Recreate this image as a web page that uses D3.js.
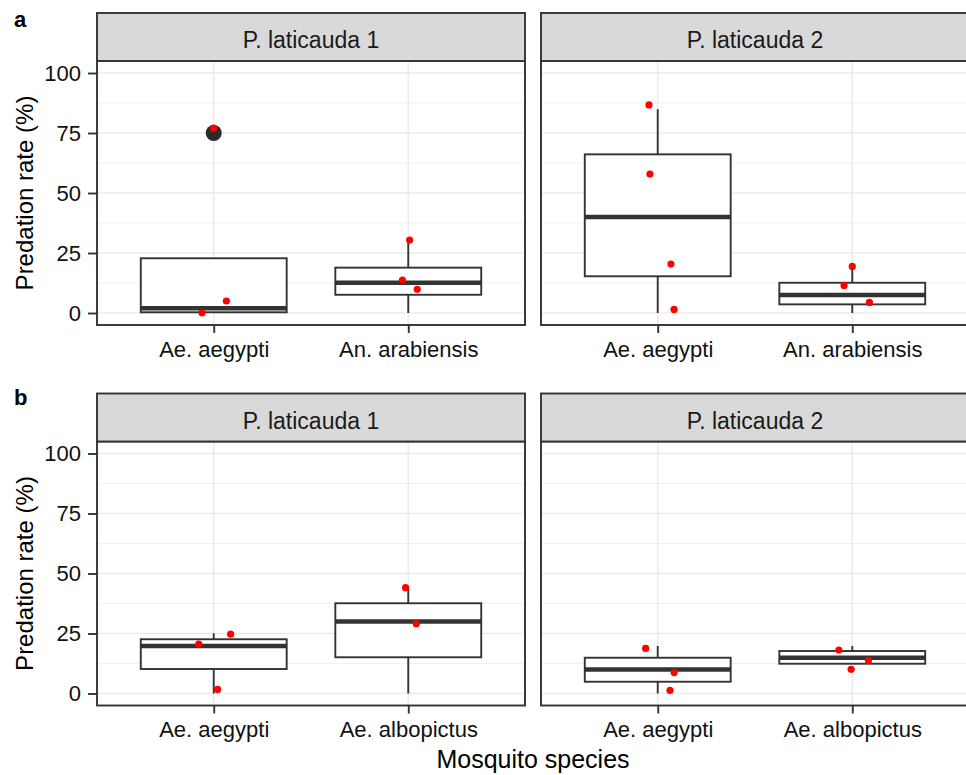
<!DOCTYPE html>
<html>
<head>
<meta charset="utf-8">
<script src="https://cdn.jsdelivr.net/npm/d3@7/dist/d3.min.js"></script>
<style>
  html, body { margin: 0; padding: 0; background: #fff; }
  svg text { font-family: "Liberation Sans", Arial, Helvetica, sans-serif; }
</style>
</head>
<body>
<script>
// Facets (predator) and the two experiments (rows a and b)
const facets = ["P. laticauda 1", "P. laticauda 2"];
const rowLabels = ["a", "b"];
const speciesA = ["Ae. aegypti", "An. arabiensis"];
const speciesB = ["Ae. aegypti", "Ae. albopictus"];
const yTicks = [0, 25, 50, 75, 100];
const yMinor = [12.5, 37.5, 62.5, 87.5];

// Box statistics: facet, species, lower whisker, Q1, median, Q3, upper whisker
const boxesA = [
  ["P. laticauda 1", "Ae. aegypti",    0,   0.3,  2.0, 22.8, 22.8],
  ["P. laticauda 1", "An. arabiensis", 0,   7.6, 12.6, 18.9, 30.4],
  ["P. laticauda 2", "Ae. aegypti",    0,  15.3, 40.0, 66.1, 84.9],
  ["P. laticauda 2", "An. arabiensis", 0,   3.6,  7.5, 12.6, 17.9]
];
const boxesB = [
  ["P. laticauda 1", "Ae. aegypti",    0,  10.2, 19.8, 22.6, 25.1],
  ["P. laticauda 1", "Ae. albopictus", 0,  15.1, 30.0, 37.6, 44.1],
  ["P. laticauda 2", "Ae. aegypti",    0,   4.9, 10.0, 14.9, 19.8],
  ["P. laticauda 2", "Ae. albopictus", 12.4, 12.4, 14.9, 17.7, 19.8]
];

// Boxplot outliers: facet, species, value
const outliersA = [
  ["P. laticauda 1", "Ae. aegypti", 75]
];
const outliersB = [];

// Jittered observations: facet, species, horizontal jitter (category units), value
const pointsA = [
  ["P. laticauda 1", "Ae. aegypti",     0.00, 77.0],
  ["P. laticauda 1", "Ae. aegypti",     0.065, 5.0],
  ["P. laticauda 1", "Ae. aegypti",    -0.06,  0.1],
  ["P. laticauda 1", "An. arabiensis",  0.007, 30.4],
  ["P. laticauda 1", "An. arabiensis", -0.03, 13.7],
  ["P. laticauda 1", "An. arabiensis",  0.046, 9.9],
  ["P. laticauda 2", "Ae. aegypti",    -0.045, 86.7],
  ["P. laticauda 2", "Ae. aegypti",    -0.04, 57.9],
  ["P. laticauda 2", "Ae. aegypti",     0.068, 20.4],
  ["P. laticauda 2", "Ae. aegypti",     0.084, 1.5],
  ["P. laticauda 2", "An. arabiensis",  0.00, 19.4],
  ["P. laticauda 2", "An. arabiensis", -0.042, 11.5],
  ["P. laticauda 2", "An. arabiensis",  0.088, 4.4]
];
const pointsB = [
  ["P. laticauda 1", "Ae. aegypti",     0.087, 24.7],
  ["P. laticauda 1", "Ae. aegypti",    -0.077, 20.6],
  ["P. laticauda 1", "Ae. aegypti",     0.02,  1.7],
  ["P. laticauda 1", "Ae. albopictus", -0.014, 44.1],
  ["P. laticauda 1", "Ae. albopictus",  0.041, 29.1],
  ["P. laticauda 2", "Ae. aegypti",    -0.062, 18.8],
  ["P. laticauda 2", "Ae. aegypti",     0.084, 8.7],
  ["P. laticauda 2", "Ae. aegypti",     0.063, 1.3],
  ["P. laticauda 2", "Ae. albopictus", -0.069, 18.1],
  ["P. laticauda 2", "Ae. albopictus",  0.083, 13.7],
  ["P. laticauda 2", "Ae. albopictus", -0.006, 10.1]
];

const rows = [
  { label: rowLabels[0], species: speciesA, boxes: boxesA, outliers: outliersA, points: pointsA },
  { label: rowLabels[1], species: speciesB, boxes: boxesB, outliers: outliersB, points: pointsB }
];

// ---- layout ----
const W = 966, H = 775;
const panelLeft = [97, 541];
const panelW = 428;
const rowOffset = [0, 380.5];
const rowLabelY = [27, 404.5];
const stripTop = 13, stripH = 48, panelTop = 61, panelBottom = 325;
const boxWidth = 0.75;
const dark = "#333333";
const textCol = "#111111";
const lw = 1.9;

const svg = d3.select("body").append("svg")
  .attr("width", W).attr("height", H)
  .attr("viewBox", `0 0 ${W} ${H}`);

svg.append("rect").attr("width", W).attr("height", H).attr("fill", "#fff");

rows.forEach((row, ri) => {
  const off = rowOffset[ri];
  const y = d3.scaleLinear().domain([-5, 105]).range([panelBottom + off, panelTop + off]);

  // row tag
  svg.append("text")
    .attr("x", 14).attr("y", rowLabelY[ri])
    .attr("font-size", 22).attr("font-weight", "bold").attr("fill", "#000")
    .text(row.label);

  // y axis title
  svg.append("text")
    .attr("transform", `translate(33,${(panelTop + panelBottom) / 2 + off}) rotate(-90)`)
    .attr("text-anchor", "middle")
    .attr("font-size", 24).attr("fill", "#000")
    .text("Predation rate (%)");

  facets.forEach((facet, fi) => {
    const x0 = panelLeft[fi];
    const x = d3.scalePoint().domain(row.species).range([x0, x0 + panelW]).padding(0.6);
    const step = x.step();
    const g = svg.append("g");

    // panel background + grid
    g.append("rect")
      .attr("x", x0).attr("y", panelTop + off)
      .attr("width", panelW).attr("height", panelBottom - panelTop)
      .attr("fill", "#fff");

    g.selectAll("line.minor").data(yMinor).join("line")
      .attr("x1", x0).attr("x2", x0 + panelW)
      .attr("y1", d => y(d)).attr("y2", d => y(d))
      .attr("stroke", "#f0f0f0").attr("stroke-width", 1);
    g.selectAll("line.majory").data(yTicks).join("line")
      .attr("x1", x0).attr("x2", x0 + panelW)
      .attr("y1", d => y(d)).attr("y2", d => y(d))
      .attr("stroke", "#ebebeb").attr("stroke-width", 1.4);
    g.selectAll("line.majorx").data(row.species).join("line")
      .attr("x1", d => x(d)).attr("x2", d => x(d))
      .attr("y1", panelTop + off).attr("y2", panelBottom + off)
      .attr("stroke", "#ebebeb").attr("stroke-width", 1.4);

    // boxplots
    const boxes = row.boxes.filter(b => b[0] === facet);
    boxes.forEach(b => {
      const [, sp, lo, q1, med, q3, hi] = b;
      const cx = x(sp);
      const half = boxWidth * step / 2;
      if (hi > q3) g.append("line").attr("x1", cx).attr("x2", cx)
        .attr("y1", y(q3)).attr("y2", y(hi)).attr("stroke", dark).attr("stroke-width", lw);
      if (lo < q1) g.append("line").attr("x1", cx).attr("x2", cx)
        .attr("y1", y(q1)).attr("y2", y(lo)).attr("stroke", dark).attr("stroke-width", lw);
      g.append("rect")
        .attr("x", cx - half).attr("y", y(q3))
        .attr("width", 2 * half).attr("height", y(q1) - y(q3))
        .attr("fill", "#fff").attr("stroke", dark).attr("stroke-width", lw);
      g.append("line")
        .attr("x1", cx - half).attr("x2", cx + half)
        .attr("y1", y(med)).attr("y2", y(med))
        .attr("stroke", dark).attr("stroke-width", 4.5);
    });

    // outliers
    g.selectAll("circle.out").data(row.outliers.filter(o => o[0] === facet)).join("circle")
      .attr("cx", d => x(d[1])).attr("cy", d => y(d[2]))
      .attr("r", 8).attr("fill", "#2b2b2b");

    // jittered observations
    g.selectAll("circle.pt").data(row.points.filter(p => p[0] === facet)).join("circle")
      .attr("cx", d => x(d[1]) + d[2] * step).attr("cy", d => y(d[3]))
      .attr("r", 3.6).attr("fill", "#ff0000");

    // panel border
    g.append("rect")
      .attr("x", x0).attr("y", panelTop + off)
      .attr("width", panelW).attr("height", panelBottom - panelTop)
      .attr("fill", "none").attr("stroke", dark).attr("stroke-width", lw);

    // strip
    g.append("rect")
      .attr("x", x0).attr("y", stripTop + off)
      .attr("width", panelW).attr("height", stripH)
      .attr("fill", "#d9d9d9").attr("stroke", dark).attr("stroke-width", lw);
    g.append("text")
      .attr("x", x0 + panelW / 2).attr("y", stripTop + off + 35)
      .attr("text-anchor", "middle").attr("font-size", 23).attr("fill", "#1a1a1a")
      .text(facet);

    // x axis
    const xAxis = g.append("g")
      .attr("transform", `translate(0,${panelBottom + off})`)
      .call(d3.axisBottom(x).tickSize(8).tickPadding(8));
    xAxis.select(".domain").remove();
    xAxis.selectAll(".tick line").attr("stroke", dark).attr("stroke-width", lw);
    xAxis.selectAll(".tick text").attr("font-size", 22).attr("fill", textCol)
      .attr("font-family", "Liberation Sans, Arial, sans-serif");

    // y axis on the first facet only
    if (fi === 0) {
      const yAxis = g.append("g")
        .attr("transform", `translate(${x0},0)`)
        .call(d3.axisLeft(y).tickValues(yTicks).tickSize(9).tickPadding(7));
      yAxis.select(".domain").remove();
      yAxis.selectAll(".tick line").attr("stroke", dark).attr("stroke-width", lw);
      yAxis.selectAll(".tick text").attr("font-size", 22).attr("fill", textCol)
        .attr("font-family", "Liberation Sans, Arial, sans-serif");
    }
  });
});

// x axis title
svg.append("text")
  .attr("x", (panelLeft[0] + panelLeft[1] + panelW) / 2).attr("y", 768)
  .attr("text-anchor", "middle").attr("font-size", 25).attr("fill", "#000")
  .text("Mosquito species");
</script>
</body>
</html>
